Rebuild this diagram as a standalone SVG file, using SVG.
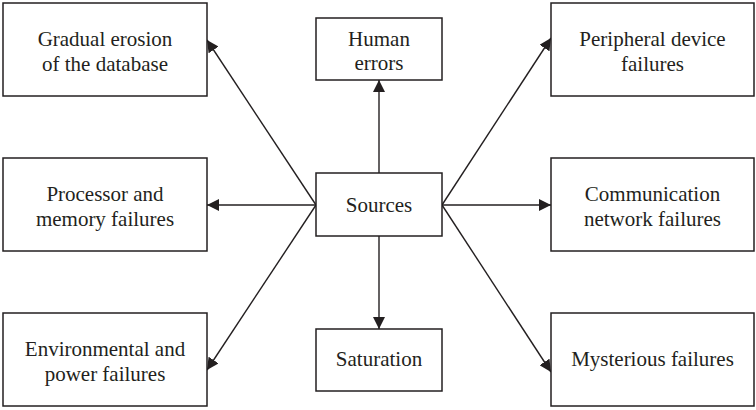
<svg xmlns="http://www.w3.org/2000/svg" width="756" height="410" viewBox="0 0 756 410">
  <style>
    .box { fill: #ffffff; stroke: #231f20; stroke-width: 1.5; }
    .lbl { font-family: "Liberation Serif", "Times New Roman", serif; font-size: 21px; fill: #231f20; text-anchor: middle; }
    .edge { fill: none; stroke: #231f20; stroke-width: 1.4; marker-end: url(#arrow); }
  </style>
  <defs>
    <marker id="arrow" markerUnits="userSpaceOnUse" markerWidth="12" markerHeight="12" viewBox="0 0 12 12" refX="12" refY="6" orient="auto">
      <path d="M0,0 L12,6 L0,12 z" fill="#231f20"/>
    </marker>
  </defs>

  <!-- connectors from the central node -->
  <g id="connectors">
    <line class="edge" x1="316" y1="205" x2="207" y2="40"/>
    <line class="edge" x1="379" y1="173" x2="379" y2="80"/>
    <line class="edge" x1="442" y1="205" x2="551" y2="38"/>
    <line class="edge" x1="316" y1="205" x2="207" y2="205"/>
    <line class="edge" x1="442" y1="205" x2="551" y2="205"/>
    <line class="edge" x1="316" y1="205" x2="207" y2="370"/>
    <line class="edge" x1="379" y1="236" x2="379" y2="329"/>
    <line class="edge" x1="442" y1="205" x2="551" y2="372"/>
  </g>

  <g id="sources">
    <rect class="box" x="316" y="173" width="126" height="63"/>
    <text class="lbl" x="379" y="212">Sources</text>
  </g>

  <g id="gradual-erosion">
    <rect class="box" x="3" y="3" width="204" height="93"/>
    <text class="lbl" x="105" y="46">Gradual erosion</text>
    <text class="lbl" x="105" y="71">of the database</text>
  </g>

  <g id="human-errors">
    <rect class="box" x="316" y="18" width="126" height="62"/>
    <text class="lbl" x="379" y="46">Human</text>
    <text class="lbl" x="379" y="70">errors</text>
  </g>

  <g id="peripheral">
    <rect class="box" x="551" y="3" width="203" height="93"/>
    <text class="lbl" x="652.5" y="46">Peripheral device</text>
    <text class="lbl" x="652.5" y="71">failures</text>
  </g>

  <g id="processor-memory">
    <rect class="box" x="3" y="158" width="204" height="93"/>
    <text class="lbl" x="105" y="201">Processor and</text>
    <text class="lbl" x="105" y="226">memory failures</text>
  </g>

  <g id="communication">
    <rect class="box" x="551" y="158" width="203" height="93"/>
    <text class="lbl" x="652.5" y="201">Communication</text>
    <text class="lbl" x="652.5" y="226">network failures</text>
  </g>

  <g id="environmental-power">
    <rect class="box" x="3" y="313" width="204" height="93"/>
    <text class="lbl" x="105" y="356">Environmental and</text>
    <text class="lbl" x="105" y="381">power failures</text>
  </g>

  <g id="saturation">
    <rect class="box" x="316" y="329" width="126" height="62"/>
    <text class="lbl" x="379" y="366">Saturation</text>
  </g>

  <g id="mysterious">
    <rect class="box" x="551" y="313" width="203" height="93"/>
    <text class="lbl" x="652.5" y="366">Mysterious failures</text>
  </g>
</svg>
